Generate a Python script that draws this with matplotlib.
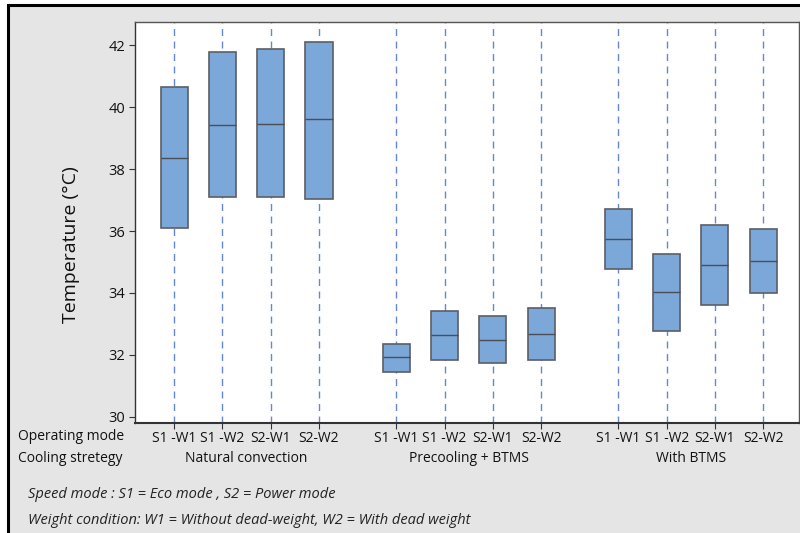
import matplotlib
matplotlib.use("Agg")
import matplotlib.pyplot as plt
from matplotlib.patches import Rectangle

plt.rcParams['font.family'] = ['Open Sans', 'DejaVu Sans']

# Operating modes and cooling strategies
modes = ["S1 -W1", "S1 -W2", "S2-W1", "S2-W2"]
strategies = ["Natural convection", "Precooling + BTMS", "With BTMS"]

# Box statistics per strategy (Q1, median, Q3), in °C
q1_nc = [36.09, 37.11, 37.11, 37.03]
med_nc = [38.35, 39.43, 39.46, 39.62]
q3_nc = [40.64, 41.78, 41.88, 42.12]

q1_pc = [31.44, 31.85, 31.74, 31.85]
med_pc = [31.94, 32.64, 32.49, 32.69]
q3_pc = [32.36, 33.42, 33.26, 33.51]

q1_bt = [34.77, 32.78, 33.61, 33.99]
med_bt = [35.75, 34.02, 34.91, 35.03]
q3_bt = [36.70, 35.25, 36.18, 36.08]

y_ticks = [30, 32, 34, 36, 38, 40, 42]

groups = [(q1_nc, med_nc, q3_nc), (q1_pc, med_pc, q3_pc), (q1_bt, med_bt, q3_bt)]
group_gap = 4.6

W, H = 800, 533
fig = plt.figure(figsize=(8, 5.33), dpi=100)
fig.patch.set_facecolor("white")
# grey panel with black frame
fig.patches.append(Rectangle((8 / W, -0.01), 1.0, 1 - 5 / H + 0.01, transform=fig.transFigure,
                             facecolor="#e5e5e5", edgecolor="black", linewidth=2.2, zorder=-10))

ax_left, ax_right = 135 / W, 799 / W
ax = fig.add_axes([ax_left, 1 - 423 / H, ax_right - ax_left, 401 / H])
ax.set_facecolor("white")

stats = []
positions = []
tick_labels = []
for gi, (q1s, meds, q3s) in enumerate(groups):
    for mi, (a, m, b) in enumerate(zip(q1s, meds, q3s)):
        stats.append(dict(q1=a, med=m, q3=b, whislo=a, whishi=b, fliers=[]))
        positions.append(gi * group_gap + mi)
        tick_labels.append(modes[mi])

for p in positions:
    ax.axvline(p, color="#4a72c8", linestyle=(0, (5, 4)), linewidth=1.0, alpha=0.85, zorder=1)

ax.bxp(stats, positions=positions, widths=0.56, patch_artist=True, showcaps=False,
       boxprops=dict(facecolor="#7ba7d9", edgecolor="#5a5f66", linewidth=1.2),
       medianprops=dict(color="#4a4f55", linewidth=1.0),
       whiskerprops=dict(linewidth=0), zorder=3)

xmin, xmax = -0.81, 12.94
ax.set_xlim(xmin, xmax)
ax.set_ylim(29.8, 42.75)
ax.set_yticks(y_ticks)
ax.set_yticklabels([str(v) for v in y_ticks], fontsize=10.5, color="#111111")
ax.set_xticks(positions)
ax.set_xticklabels(tick_labels, fontsize=10, color="#111111")
ax.tick_params(axis="both", direction="out", length=4, color="#333333", pad=3)
ax.tick_params(axis="x", pad=2)
for s in ax.spines.values():
    s.set_color("#555555")
    s.set_linewidth(1.0)
ax.spines["left"].set_color("#333333")
ax.spines["bottom"].set_color("#333333")
ax.spines["bottom"].set_linewidth(1.5)

ax.set_ylabel("Temperature (°C)", fontsize=14, color="#111111")
ax.yaxis.set_label_coords(-0.083, 0.446)

# Row captions below the axis
fig.text(18 / W, 1 - 437 / H, "Operating mode", fontsize=10, va="center", ha="left", color="#111111")
fig.text(18 / W, 1 - 459 / H, "Cooling stretegy", fontsize=10, va="center", ha="left", color="#111111")
for gi, name in enumerate(strategies):
    xc = gi * group_gap + 1.5
    xf = ax_left + (xc - xmin) / (xmax - xmin) * (ax_right - ax_left)
    fig.text(xf, 1 - 459 / H, name, fontsize=10, ha="center", va="center", color="#111111")

fig.text(28 / W, 1 - 495 / H, "Speed mode : S1 = Eco mode , S2 = Power mode",
         fontsize=10.5, style="italic", va="center", ha="left", color="#222222")
fig.text(28 / W, 1 - 520 / H,
         "Weight condition: W1 = Without dead-weight, W2 = With dead weight",
         fontsize=10.5, style="italic", va="center", ha="left", color="#222222")

fig.savefig("out.png", dpi=100)
